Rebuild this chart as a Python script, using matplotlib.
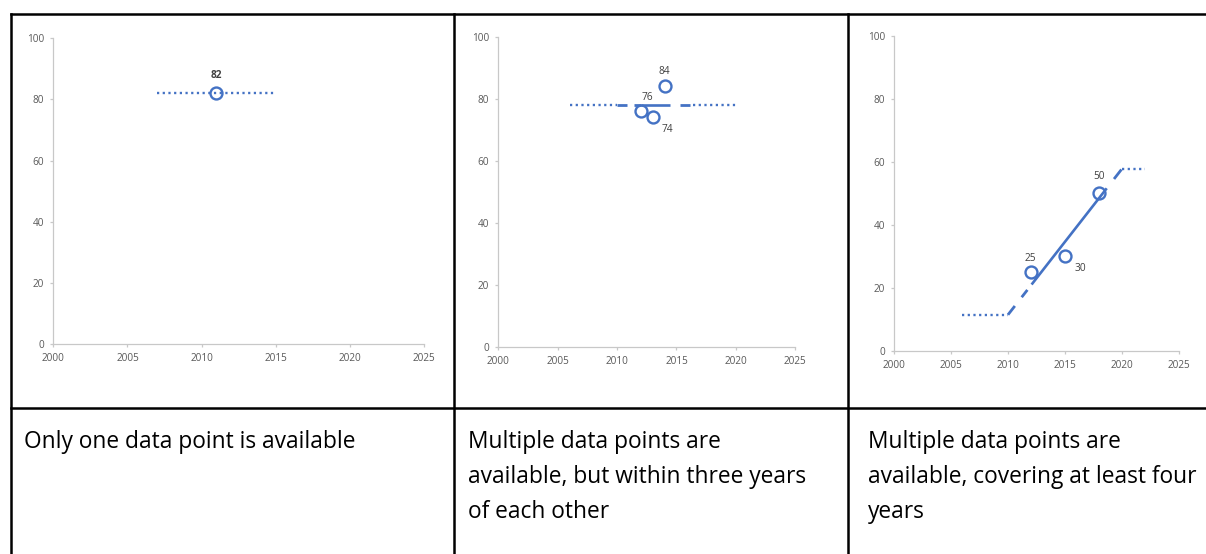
import matplotlib
matplotlib.use("Agg")
import matplotlib.pyplot as plt
from matplotlib.lines import Line2D
import numpy as np

plt.rcParams['lines.scale_dashes'] = False
plt.rcParams['font.family'] = ['Open Sans', 'DejaVu Sans']

# ---------------- data ----------------
years_ticks = [2000, 2005, 2010, 2015, 2020, 2025]
value_ticks = [0, 20, 40, 60, 80, 100]

# panel 1: single point
p1_years = [2011]
p1_values = [82]
p1_level = 82
p1_dotted = [(2007, 2015)]

# panel 2: points within three years
p2_years = [2012, 2013, 2014]
p2_values = [76, 74, 84]
p2_level = 78
p2_dotted = [(2006, 2010), (2016.4, 2020)]
p2_dashed = [(2010, 2010.8), (2011.4, 2012), (2015.3, 2016.1)]
p2_solid = [(2012, 2014.45)]

# panel 3: points covering at least four years
p3_years = [2012, 2015, 2018]
p3_values = [25, 30, 50]
p3_trend_years = [2010, 2020]
p3_trend_values = [11.5, 57.8]
p3_dotted_left = (2006, 2010)
p3_dotted_right = (2020, 2022)
p3_dashed = [(2010, 2010.6), (2011.2, 2011.7), (2019.3, 2019.95)]
p3_solid = [(2012.07, 2018.66)]

captions = [
    ["Only one data point is available"],
    ["Multiple data points are", "available, but within three years", "of each other"],
    ["Multiple data points are", "available, covering at least four", "years"],
]

# ---------------- style ----------------
W, H = 1206, 554
BLUE = '#4472C4'
TICKC = '#595959'
AXC = '#C8C8C8'
DOT = dict(color=BLUE, lw=1.7, dashes=(1.6, 2.5), solid_capstyle='butt', dash_capstyle='butt')
DASH = dict(color=BLUE, lw=2.0, solid_capstyle='butt')
SOLID = dict(color=BLUE, lw=1.9, solid_capstyle='butt')
MARK = dict(ls='none', marker='o', ms=8.6, mew=1.7, mfc='none', mec=BLUE, zorder=5)

fig = plt.figure(figsize=(W / 100, H / 100), dpi=100)


def px_axes(x0, x1, ytop, ybot):
    return fig.add_axes([x0 / W, 1 - ybot / H, (x1 - x0) / W, (ybot - ytop) / H])


def style_axes(ax):
    ax.set_xlim(2000, 2025)
    ax.set_ylim(0, 100)
    ax.set_xticks(years_ticks)
    ax.set_yticks(value_ticks)
    for s in ['top', 'right']:
        ax.spines[s].set_visible(False)
    for s in ['left', 'bottom']:
        ax.spines[s].set_color(AXC)
        ax.spines[s].set_linewidth(0.9)
    ax.tick_params(axis='both', direction='out', length=2.5, width=0.9, color=AXC,
                   labelcolor=TICKC, labelsize=7.2, pad=4)
    ax.patch.set_alpha(0)


def label(ax, x, y, txt, dx, dy, bold=False):
    ax.annotate(txt, (x, y), xytext=(dx, dy), textcoords='offset points',
                ha='center', va='center', fontsize=7.3, color='#404040',
                fontweight='bold' if bold else 'normal', zorder=6)


# panel 1
ax1 = px_axes(53.3, 424, 38.3, 344)
style_axes(ax1)
for a, b in p1_dotted:
    ax1.plot([a, b], [p1_level, p1_level], **DOT)
ax1.plot(p1_years, p1_values, **MARK)
label(ax1, p1_years[0], p1_values[0], str(p1_values[0]), 0, 12.5, bold=True)

# panel 2
ax2 = px_axes(498.3, 795.3, 36.7, 346.7)
style_axes(ax2)
for a, b in p2_dotted:
    ax2.plot([a, b], [p2_level, p2_level], **DOT)
for a, b in p2_dashed:
    ax2.plot([a, b], [p2_level, p2_level], **DASH)
for a, b in p2_solid:
    ax2.plot([a, b], [p2_level, p2_level], **SOLID)
ax2.plot(p2_years, p2_values, **MARK)
p2_offsets = [(5, 10), (10.8, -8.6), (0, 10.8)]
for x, y, (dx, dy) in zip(p2_years, p2_values, p2_offsets):
    label(ax2, x, y, str(y), dx, dy)

# panel 3
ax3 = px_axes(894, 1179, 35.7, 351)
style_axes(ax3)


def trend(x):
    return np.interp(x, p3_trend_years, p3_trend_values)


ax3.plot(list(p3_dotted_left), [p3_trend_values[0]] * 2, **DOT)
ax3.plot(list(p3_dotted_right), [p3_trend_values[-1]] * 2, **DOT)
for a, b in p3_dashed:
    ax3.plot([a, b], trend([a, b]), **DASH)
for a, b in p3_solid:
    ax3.plot([a, b], trend([a, b]), **SOLID)
ax3.plot(p3_years, p3_values, **MARK)
p3_offsets = [(0, 10), (10.8, -8.6), (0, 12)]
for x, y, (dx, dy) in zip(p3_years, p3_values, p3_offsets):
    label(ax3, x, y, str(y), dx, dy)

# ---------------- table grid ----------------
LW = 1.8


def fline(x0, y0, x1, y1):
    fig.add_artist(Line2D([x0 / W, x1 / W], [1 - y0 / H, 1 - y1 / H],
                          transform=fig.transFigure, color='black', lw=LW,
                          solid_capstyle='projecting'))


fline(10.5, 13.5, W, 13.5)
fline(10.5, 408, W, 408)
for xv in [10.5, 454.3, 848]:
    fline(xv, 13.5, xv, H)

# ---------------- captions ----------------
cap_x = [24, 468.3, 868.3]
baselines = [447.7, 483.0, 518.3]
for cx, lines in zip(cap_x, captions):
    for ln, by in zip(lines, baselines):
        fig.text(cx / W, 1 - by / H, ln, ha='left', va='baseline',
                 fontsize=16.4, color='black')

fig.savefig('out.png', dpi=100)
